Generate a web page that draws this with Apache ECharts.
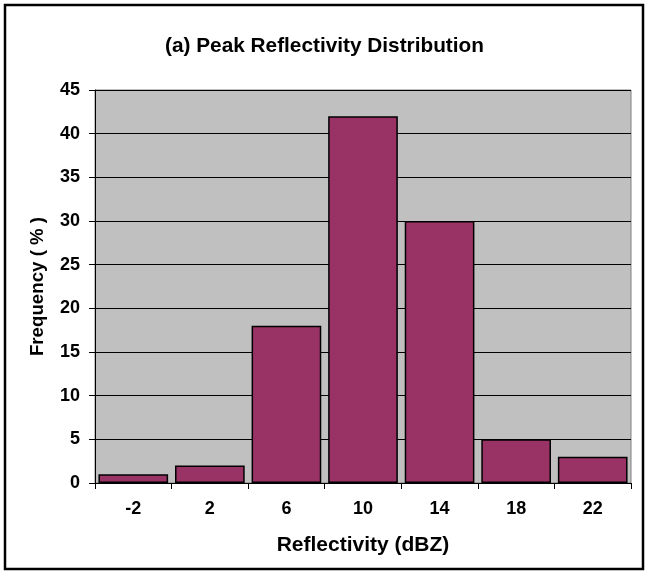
<!DOCTYPE html>
<html><head><meta charset="utf-8">
<script src="https://cdn.jsdelivr.net/npm/echarts@6/dist/echarts.min.js"></script>
<style>html,body{margin:0;padding:0;background:#fff}#c{width:649px;height:575px}</style>
</head><body><div id="c"></div>
<script>
const categories = ['-2','2','6','10','14','18','22'];
const frequency = [1, 2, 18, 42, 30, 5, 3];
const narrow = 'Liberation Sans Narrow, Arial Narrow, Liberation Sans, Arial';
const wide = 'Liberation Sans, Arial';
const chart = echarts.init(document.getElementById('c'));
chart.setOption({
  animation: false,
  backgroundColor: '#fff',
  graphic: [{type:'rect', shape:{x:5,y:5,width:638,height:564}, style:{fill:'none', stroke:'#000', lineWidth:2.5}, z:100}],
  title: {text:'(a) Peak Reflectivity Distribution', left:'center', top:31,
    textStyle:{fontFamily:wide, fontSize:20.8, fontWeight:'bold', color:'#000'}},
  grid: {left:95, right:18, top:90, bottom:92, show:true, backgroundColor:'#C0C0C0', borderColor:'#808080', borderWidth:1},
  xAxis: {type:'category', data:categories, name:'Reflectivity (dBZ)', nameLocation:'middle', nameGap:52,
    nameTextStyle:{fontFamily:wide, fontSize:21, fontWeight:'bold', color:'#000'},
    axisLine:{lineStyle:{color:'#000', width:1}},
    axisTick:{show:true, alignWithLabel:false, length:6, lineStyle:{color:'#000'}},
    axisLabel:{fontFamily:narrow, fontSize:18, fontWeight:'bold', color:'#000', margin:17}},
  yAxis: {type:'value', min:0, max:45, interval:5, name:'Frequency ( % )', nameLocation:'middle', nameGap:48,
    nameTextStyle:{fontFamily:wide, fontSize:18.7, fontWeight:'bold', color:'#000'},
    axisLine:{show:true, lineStyle:{color:'#000', width:1}},
    axisTick:{show:true, length:6, lineStyle:{color:'#000'}},
    axisLabel:{fontFamily:narrow, fontSize:18, fontWeight:'bold', color:'#000', margin:15},
    splitLine:{show:true, lineStyle:{color:'#000', width:1}}},
  series: [{type:'bar', data:frequency, barCategoryGap:'9%',
    itemStyle:{color:'#993366', borderColor:'#000', borderWidth:1.5}}]
});
</script></body></html>
